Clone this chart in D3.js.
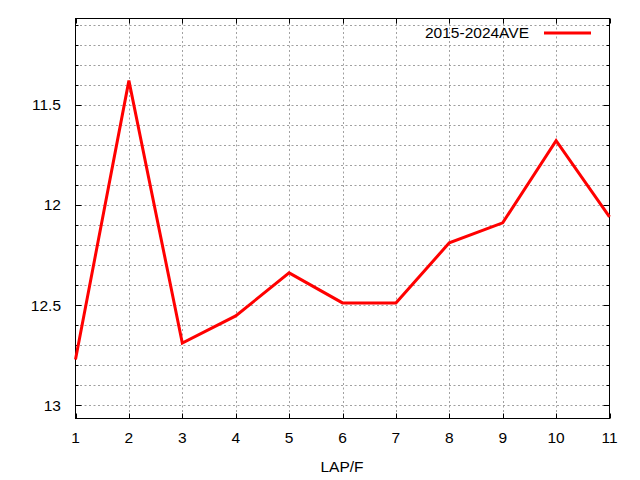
<!DOCTYPE html>
<html><head><meta charset="utf-8">
<script src="https://cdn.jsdelivr.net/npm/d3@7"></script>
<style>body{margin:0;background:#fff}svg{display:block}text{font-family:"Liberation Sans",Arial,sans-serif}</style>
</head><body><svg id="c" width="640" height="480"></svg>
<script>
const laps = [1,2,3,4,5,6,7,8,9,10,11];
const ave = [12.772,11.38,12.69,12.555,12.34,12.49,12.49,12.19,12.09,11.68,12.06];
const seriesName = "2015-2024AVE";
const xTicks = [1,2,3,4,5,6,7,8,9,10,11];
const yMajor = [11.5,12,12.5,13];
const yMinor = d3.range(111,131).map(v=>v/10);
const xLabel = "LAP/F";

const svg = d3.select("#c");
const L=75.5, R=609.5, T=18.5, B=418.5;
const x = d3.scaleLinear().domain([1,11]).range([L,R]);
const y = d3.scaleLinear().domain([11.07,13.067]).range([T,B]);
const fs = "15.5px";

// grid
const g = svg.append("g").attr("stroke","#a0a0a0").attr("stroke-dasharray","2,2.5").attr("stroke-width",1);
yMinor.forEach(v=>{const yy=Math.round(y(v))+0.5; if(yy>T+1&&yy<B-1) g.append("line").attr("x1",L).attr("x2",R).attr("y1",yy).attr("y2",yy);});
xTicks.forEach(v=>{const xx=Math.round(x(v))+0.5; if(xx>L+1&&xx<R-1) g.append("line").attr("x1",xx).attr("x2",xx).attr("y1",T).attr("y2",B);});

// ticks
const tk = svg.append("g").attr("stroke","#000").attr("stroke-width",1);
yMinor.forEach(v=>{const yy=Math.round(y(v))+0.5; const len = yMajor.some(m=>Math.abs(m-v)<1e-9)?6:3;
  tk.append("line").attr("x1",L).attr("x2",L+len).attr("y1",yy).attr("y2",yy);
  tk.append("line").attr("x1",R).attr("x2",R-len).attr("y1",yy).attr("y2",yy);});
xTicks.forEach(v=>{const xx=Math.round(x(v))+0.5;
  tk.append("line").attr("x1",xx).attr("x2",xx).attr("y1",B).attr("y2",B-5);
  tk.append("line").attr("x1",xx).attr("x2",xx).attr("y1",T).attr("y2",T+5);});

// frame
svg.append("rect").attr("x",L).attr("y",T).attr("width",R-L).attr("height",B-T).attr("fill","none").attr("stroke","#000").attr("stroke-width",1);

// tick labels
yMajor.forEach(v=>svg.append("text").attr("x",61).attr("y",y(v)).attr("dy","0.36em").attr("text-anchor","end").attr("font-size",fs).attr("fill","#000").text(d3.format("")(v)));
xTicks.forEach(v=>svg.append("text").attr("x",x(v)).attr("y",443).attr("text-anchor","middle").attr("font-size",fs).attr("fill","#000").text(v));
svg.append("text").attr("x",342).attr("y",472).attr("text-anchor","middle").attr("font-size",fs).attr("fill","#000").text(xLabel);

// line
const line = d3.line().x((d,i)=>x(laps[i])).y(d=>y(d));
svg.append("path").datum(ave).attr("d",line).attr("fill","none").attr("stroke","#ff0000").attr("stroke-width",3).attr("stroke-linejoin","miter");

// legend
svg.append("text").attr("x",529).attr("y",38).attr("text-anchor","end").attr("font-size",fs).attr("fill","#000").text(seriesName);
svg.append("line").attr("x1",544).attr("x2",591).attr("y1",33).attr("y2",33).attr("stroke","#ff0000").attr("stroke-width",3);
</script></body></html>
